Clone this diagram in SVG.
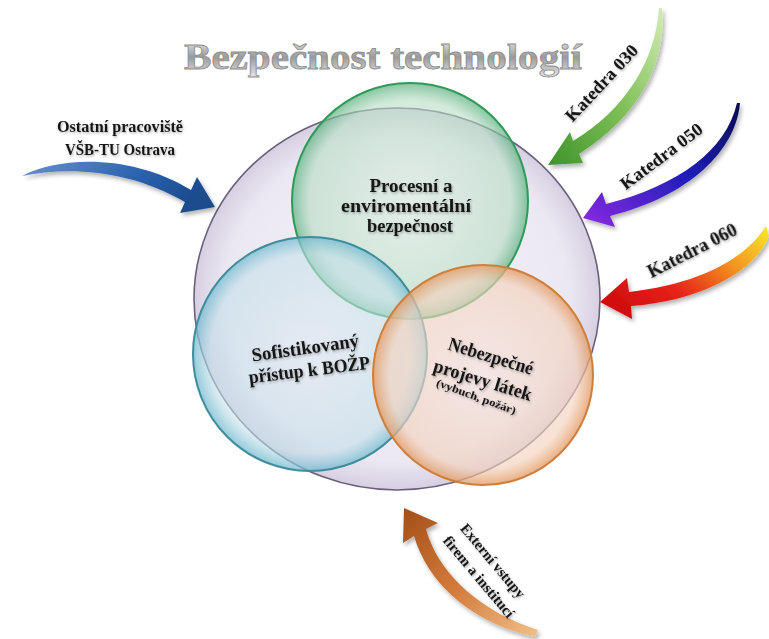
<svg xmlns="http://www.w3.org/2000/svg" width="769" height="639" viewBox="0 0 769 639">
<defs>
<style>
.t{font-family:"Liberation Serif","Times New Roman",serif;font-weight:bold;fill:#141414;text-anchor:middle}
.arrow{filter:url(#sh)}
.ring{stroke-width:2}
</style>
<filter id="sh" x="-20%" y="-20%" width="140%" height="140%">
<feDropShadow dx="2" dy="3" stdDeviation="2" flood-color="#000" flood-opacity="0.3"/>
</filter>
<filter id="tsh" x="-10%" y="-10%" width="120%" height="130%">
<feDropShadow dx="1" dy="1.5" stdDeviation="1" flood-color="#000" flood-opacity="0.3"/>
</filter>
<linearGradient id="gTitle" x1="0" y1="0" x2="0" y2="1">
<stop offset="0" stop-color="#f4f4f4"/>
<stop offset="0.5" stop-color="#9a9a9a"/>
<stop offset="1" stop-color="#e6e6e6"/>
</linearGradient>
<radialGradient id="gBig" cx="0.5" cy="0.5" r="0.5">
<stop offset="0" stop-color="#f6f4f8"/>
<stop offset="0.85" stop-color="#ece8f2"/>
<stop offset="1" stop-color="#d6cfe2"/>
</radialGradient>
<radialGradient id="gGreen" cx="0.5" cy="0.5" r="0.5">
<stop offset="0" stop-color="#d8eedf" stop-opacity="0.55"/>
<stop offset="0.85" stop-color="#b6dcc3" stop-opacity="0.6"/>
<stop offset="1" stop-color="#5fb383" stop-opacity="0.75"/>
</radialGradient>
<radialGradient id="gTeal" cx="0.5" cy="0.5" r="0.5">
<stop offset="0" stop-color="#dbe8f2" stop-opacity="0.55"/>
<stop offset="0.85" stop-color="#c3dfe9" stop-opacity="0.6"/>
<stop offset="1" stop-color="#6fb9cf" stop-opacity="0.75"/>
</radialGradient>
<radialGradient id="gOrange" cx="0.5" cy="0.5" r="0.5">
<stop offset="0" stop-color="#f6e2da" stop-opacity="0.6"/>
<stop offset="0.85" stop-color="#f3d2bd" stop-opacity="0.65"/>
<stop offset="1" stop-color="#e39a63" stop-opacity="0.8"/>
</radialGradient>
<linearGradient id="aBlue" x1="0" y1="0" x2="1" y2="0.3">
<stop offset="0" stop-color="#6a8fd0"/>
<stop offset="0.6" stop-color="#2d64b0"/>
<stop offset="1" stop-color="#1b4b8e"/>
</linearGradient>
<linearGradient id="aGreen" x1="1" y1="0" x2="0" y2="1">
<stop offset="0" stop-color="#d3ecb5"/>
<stop offset="0.5" stop-color="#7fbf57"/>
<stop offset="1" stop-color="#3f932c"/>
</linearGradient>
<linearGradient id="aPurple" x1="1" y1="0" x2="0" y2="1">
<stop offset="0" stop-color="#0c0c50"/>
<stop offset="0.45" stop-color="#1d1db8"/>
<stop offset="1" stop-color="#8a2be2"/>
</linearGradient>
<linearGradient id="aRed" x1="1" y1="0" x2="0" y2="0.6">
<stop offset="0" stop-color="#f7ea2a"/>
<stop offset="0.35" stop-color="#f39220"/>
<stop offset="0.7" stop-color="#e7231a"/>
<stop offset="1" stop-color="#d31010"/>
</linearGradient>
<linearGradient id="aBrown" x1="1" y1="1" x2="0" y2="0">
<stop offset="0" stop-color="#f0c08a"/>
<stop offset="0.5" stop-color="#d27a3a"/>
<stop offset="1" stop-color="#a24f18"/>
</linearGradient>
</defs>

<rect width="769" height="639" fill="#ffffff"/>

<g id="title">
<text x="383" y="69" font-family="Liberation Serif,Times New Roman,serif" font-weight="bold" font-size="36" text-anchor="middle" textLength="398" lengthAdjust="spacingAndGlyphs" fill="url(#gTitle)" stroke="#8c8c8c" stroke-width="0.8">Bezpečnost technologií</text>
</g>

<g id="venn">
<g id="node-outer">
<ellipse cx="397" cy="299" rx="203" ry="191" fill="url(#gBig)" stroke="#6b607a" stroke-width="1.6"/>
</g>
<g id="node-proces">
<circle cx="410" cy="201" r="118" fill="url(#gGreen)" stroke="#2f9a5a" class="ring"/>
</g>
<g id="node-bozp">
<circle cx="310" cy="354" r="117" fill="url(#gTeal)" stroke="#3f8c9c" class="ring"/>
</g>
<g id="node-latky">
<circle cx="483" cy="375" r="110" fill="url(#gOrange)" stroke="#cf7f3c" class="ring"/>
</g>
</g>

<g id="labels-venn" filter="url(#tsh)">
<text class="t" x="411" y="192" font-size="18" textLength="83" lengthAdjust="spacingAndGlyphs">Procesní a</text>
<text class="t" x="406" y="212" font-size="18" textLength="130" lengthAdjust="spacingAndGlyphs">enviromentální</text>
<text class="t" x="410" y="232" font-size="18" textLength="86" lengthAdjust="spacingAndGlyphs">bezpečnost</text>
<text class="t" font-size="19" textLength="108" lengthAdjust="spacingAndGlyphs" transform="translate(306,354) rotate(-8)">Sofistikovaný</text>
<text class="t" font-size="19" textLength="122" lengthAdjust="spacingAndGlyphs" transform="translate(310,376) rotate(-7)">přístup k BOŽP</text>
<text class="t" font-size="19" textLength="88" lengthAdjust="spacingAndGlyphs" transform="translate(489,362) rotate(17)">Nebezpečné</text>
<text class="t" font-size="19" textLength="102" lengthAdjust="spacingAndGlyphs" transform="translate(481,386) rotate(17)">projevy látek</text>
<text class="t" font-size="11" textLength="84" lengthAdjust="spacingAndGlyphs" transform="translate(475,400) rotate(20)">(vybuch, požár)</text>
</g>

<g id="connectors">
<g id="arrow-vsb" class="arrow">
<path d="M22,176 C60,156 132,154 191,190 L197,177 L215,207 L180,213 L185,202 C130,170 70,166 22,176 Z" fill="url(#aBlue)"/>
</g>
<g id="arrow-030" class="arrow">
<path d="M659,8 C656,60 625,110 573,141 L570,132 L548,165 L583,163 L579,154 C636,118 668,65 662,8 Z" fill="url(#aGreen)"/>
</g>
<g id="arrow-050" class="arrow">
<path d="M737,103 C726,150 680,185 606,204 L602,192 L583,218 L615,227 L610,216 C690,196 736,150 740,103 Z" fill="url(#aPurple)"/>
</g>
<g id="arrow-060" class="arrow">
<path d="M766,226 C742,264 690,285 629,292 L627,278 L600,302 L632,319 L631,306 C700,301 755,272 769,236 Z" fill="url(#aRed)"/>
</g>
<g id="arrow-ext" class="arrow">
<path d="M535,637 C480,625 430,590 414,536 L403,543 L404,508 L438,523 L426,529 C440,580 490,615 538,630 Z" fill="url(#aBrown)"/>
</g>
</g>

<g id="labels-arrows" filter="url(#tsh)">
<text class="t" x="120" y="132" font-size="17" textLength="126" lengthAdjust="spacingAndGlyphs">Ostatní pracoviště</text>
<text class="t" x="120" y="155" font-size="17" textLength="110" lengthAdjust="spacingAndGlyphs">VŠB-TU Ostrava</text>
<text class="t" font-size="18" textLength="98" lengthAdjust="spacingAndGlyphs" transform="translate(606,87) rotate(-47)">Katedra 030</text>
<text class="t" font-size="18" textLength="98" lengthAdjust="spacingAndGlyphs" transform="translate(665,161) rotate(-37)">Katedra 050</text>
<text class="t" font-size="18" textLength="98" lengthAdjust="spacingAndGlyphs" transform="translate(695,256) rotate(-27)">Katedra 060</text>
<text class="t" font-size="15" textLength="92" lengthAdjust="spacingAndGlyphs" transform="translate(489,564) rotate(50)">Externí vstupy</text>
<text class="t" font-size="15" textLength="102" lengthAdjust="spacingAndGlyphs" transform="translate(475,580) rotate(50)">firem a institucí</text>
</g>
</svg>
